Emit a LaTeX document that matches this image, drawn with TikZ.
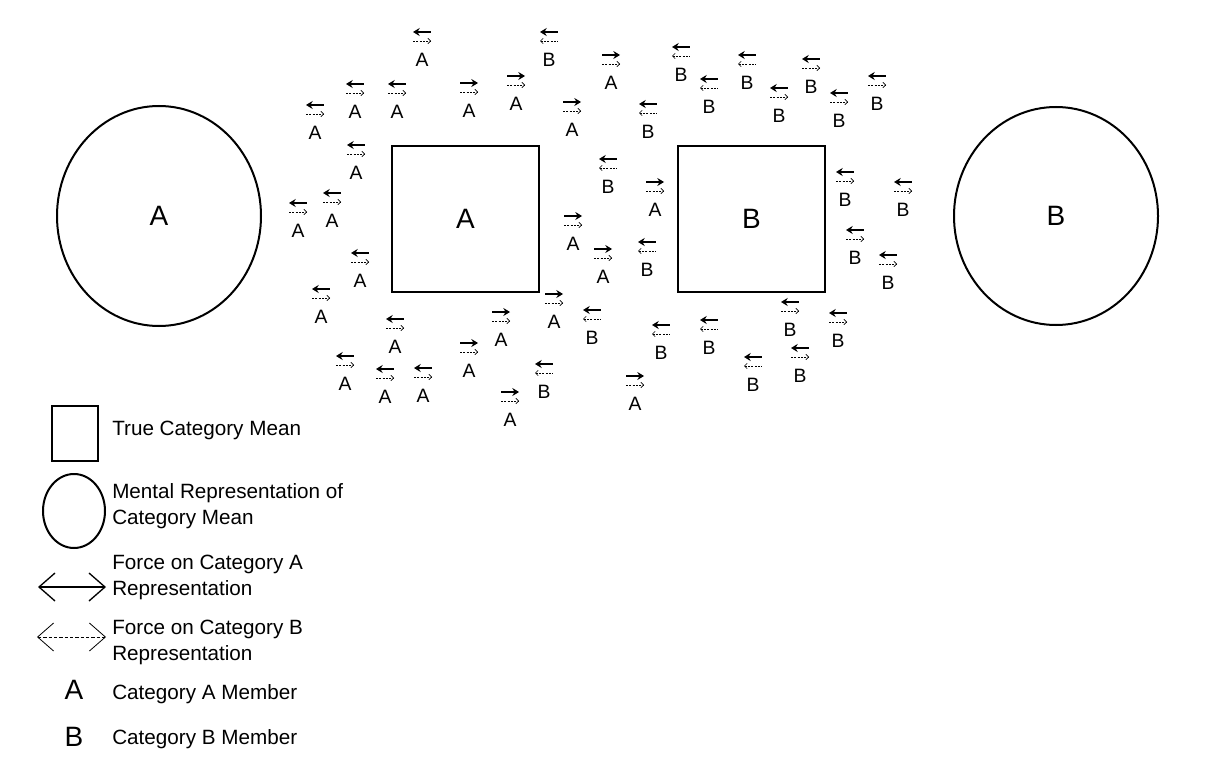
\documentclass[tikz,border=0pt]{standalone}
\usepackage{fontspec}
\setmainfont{Liberation Sans}
\usepackage{tikz}
\usetikzlibrary{calc,arrows.meta}
\tikzset{
  member/.style={font=\fontsize{14.5}{14.5}\selectfont,inner sep=0pt},
  bigletter/.style={font=\fontsize{21}{21}\selectfont,inner sep=0pt},
  legtext/.style={font=\fontsize{15.5}{19.5}\selectfont,anchor=west,align=left,inner sep=0pt},
  forceA/.style={line width=1.6pt,>={Stealth[length=5pt,width=6pt]}},
  forceB/.style={line width=0.5pt,dash pattern=on 1.5pt off 1pt,>={Straight Barb[length=2pt,width=4pt]}},
  meanbox/.style={draw,line width=1.5pt,minimum size=110pt,inner sep=0pt,font=\fontsize{21}{21}\selectfont},
  repcircle/.style={draw,line width=1.5pt}
}
% category member: name, position, letter, force on A, force on B
\newcommand{\catmember}[5]{%
  \node[member] (#1) at (#2) {#3};
  \draw[forceA,#4] ($(#1)+(-9,-28)$) -- ++(18,0);
  \draw[forceB,#5] ($(#1)+(-9,-19)$) -- ++(18,0);
}
\begin{document}
\begin{tikzpicture}[x=0.75pt,y=-0.75pt]
  \useasboundingbox (0,0) rectangle (1205,759);
  % mental representations
  \draw[repcircle] (159,216) ellipse (102 and 110);
  \node[bigletter] (repA) at (159,216) {A};
  \draw[repcircle] (1056,216) ellipse (102 and 109);
  \node[bigletter] (repB) at (1056,216) {B};
  % true means
  \node[meanbox] (meanA) at (465.5,219) {A};
  \node[meanbox] (meanB) at (751.5,219) {B};
  % category A members
  \catmember{a1}{422,60}{A}{<-}{->}
  \catmember{a2}{355,112}{A}{<-}{->}
  \catmember{a3}{397,112}{A}{<-}{->}
  \catmember{a4}{315,133}{A}{<-}{->}
  \catmember{a5}{469,111}{A}{->}{->}
  \catmember{a6}{516,104}{A}{->}{->}
  \catmember{a7}{572,130}{A}{->}{->}
  \catmember{a8}{611,83}{A}{->}{->}
  \catmember{a9}{356,173}{A}{<-}{->}
  \catmember{a10}{332,221}{A}{<-}{->}
  \catmember{a11}{298,231}{A}{<-}{->}
  \catmember{a12}{360,281}{A}{<-}{->}
  \catmember{a13}{321,317}{A}{<-}{->}
  \catmember{a14}{573,244}{A}{->}{->}
  \catmember{a15}{603,277}{A}{->}{->}
  \catmember{a16}{655,210}{A}{->}{->}
  \catmember{a17}{554,322}{A}{->}{->}
  \catmember{a18}{501,340}{A}{->}{->}
  \catmember{a19}{395,347}{A}{<-}{->}
  \catmember{a20}{469,371}{A}{->}{->}
  \catmember{a21}{345,384}{A}{<-}{->}
  \catmember{a22}{385,397}{A}{<-}{->}
  \catmember{a23}{423,396}{A}{<-}{->}
  \catmember{a24}{510,420}{A}{->}{->}
  \catmember{a25}{635,404}{A}{->}{->}
  % category B members
  \catmember{b1}{549,60}{B}{<-}{<-}
  \catmember{b2}{681,75}{B}{<-}{<-}
  \catmember{b3}{709,107}{B}{<-}{<-}
  \catmember{b4}{747,83}{B}{<-}{<-}
  \catmember{b5}{779,116}{B}{<-}{->}
  \catmember{b6}{811,87}{B}{<-}{->}
  \catmember{b7}{839,121}{B}{<-}{->}
  \catmember{b8}{877,104}{B}{<-}{->}
  \catmember{b9}{648,132}{B}{<-}{<-}
  \catmember{b10}{608,187}{B}{<-}{<-}
  \catmember{b11}{647,270}{B}{<-}{<-}
  \catmember{b12}{845,200}{B}{<-}{->}
  \catmember{b13}{903,210}{B}{<-}{->}
  \catmember{b14}{855,258}{B}{<-}{->}
  \catmember{b15}{888,283}{B}{<-}{->}
  \catmember{b16}{592,338}{B}{<-}{<-}
  \catmember{b17}{544,392}{B}{<-}{<-}
  \catmember{b18}{661,353}{B}{<-}{<-}
  \catmember{b19}{709,348}{B}{<-}{<-}
  \catmember{b20}{790,330}{B}{<-}{->}
  \catmember{b21}{838,341}{B}{<-}{->}
  \catmember{b22}{753,385}{B}{<-}{<-}
  \catmember{b23}{800,376}{B}{<-}{->}
  % legend
  \node[draw,line width=1.5pt,minimum width=34pt,minimum height=41pt,inner sep=0pt] (legbox) at (75,433.5) {};
  \node[legtext] (legboxtxt) at (112,430) {True Category Mean};
  \draw[repcircle] (74,511) ellipse (31 and 37);
  \coordinate (legcirc) at (105,511);
  \node[legtext] (legcirctxt) at (112,506) {Mental Representation of\\Category Mean};
  \coordinate (legAl) at (38,587);
  \coordinate (legAr) at (106,587);
  \draw[line width=1pt,{Straight Barb[length=12pt,width=21pt]}-{Straight Barb[length=12pt,width=21pt]}] (legAl) -- (legAr);
  \node[legtext] (legAtxt) at (112,577.5) {Force on Category A\\Representation};
  \coordinate (legBl) at (37,637);
  \coordinate (legBr) at (106,637);
  \draw[line width=0.6pt,dash pattern=on 2.5pt off 1.5pt,{Straight Barb[length=12pt,width=21pt]}-{Straight Barb[length=12pt,width=21pt]}] (legBl) -- (legBr);
  \node[legtext] (legBtxt) at (112,642.5) {Force on Category B\\Representation};
  \node[bigletter] (legA) at (74,690) {A};
  \node[legtext] (legAmem) at (112,694) {Category A Member};
  \node[bigletter] (legB) at (74,737) {B};
  \node[legtext] (legBmem) at (112,739) {Category B Member};
\end{tikzpicture}
\end{document}
